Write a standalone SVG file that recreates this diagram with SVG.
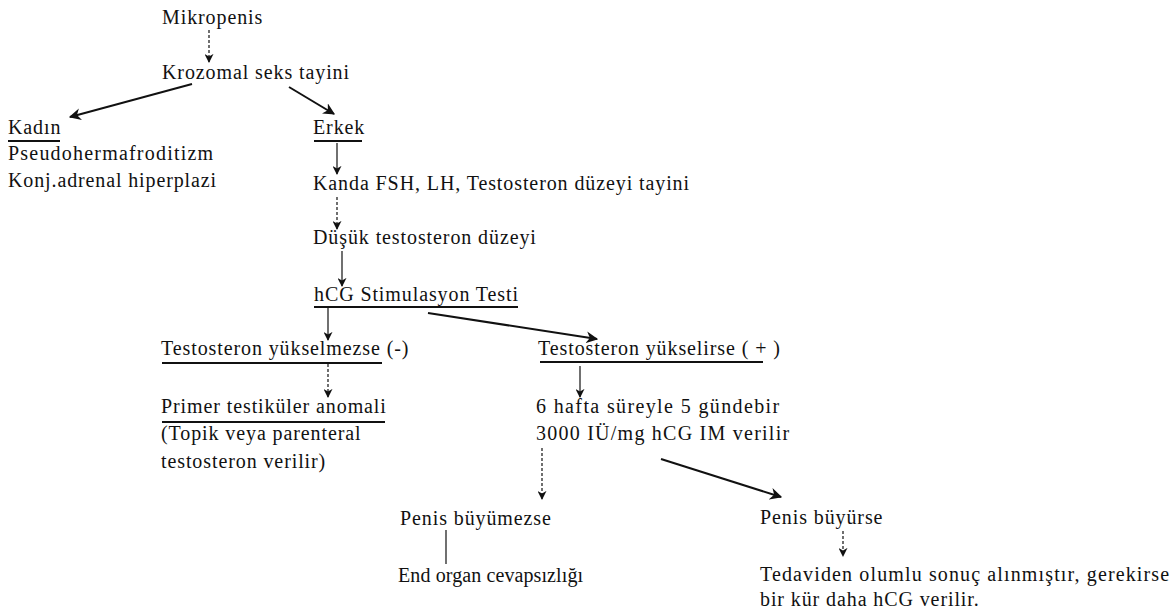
<svg xmlns="http://www.w3.org/2000/svg" width="1176" height="614" viewBox="0 0 1176 614">
<style>
text{font-family:"Liberation Serif","Times New Roman",serif;font-size:20px;fill:#111;letter-spacing:0.9px}
.c{stroke:#111;fill:none;stroke-width:1.2}
.d{stroke-dasharray:3,2}
.t{stroke-width:2}
.u{stroke:#111;stroke-width:1.8}
</style>
<defs>
<marker id="ah" viewBox="0 0 10 10" refX="9" refY="5" markerWidth="9" markerHeight="9" markerUnits="userSpaceOnUse" orient="auto">
<path d="M0,0 L10,5 L0,10 L3,5 z" fill="#111"/>
</marker>
<marker id="ah2" viewBox="0 0 10 10" refX="9" refY="5" markerWidth="12" markerHeight="12" markerUnits="userSpaceOnUse" orient="auto">
<path d="M0,0 L10,5 L0,10 L3,5 z" fill="#111"/>
</marker>
</defs>
<g id="connectors">
<line class="c d" x1="209" y1="30" x2="209" y2="62" marker-end="url(#ah)"/>
<line class="c t" x1="192" y1="84" x2="70" y2="117" marker-end="url(#ah2)"/>
<line class="c t" x1="289" y1="87" x2="334" y2="114" marker-end="url(#ah2)"/>
<line class="c" x1="337" y1="143" x2="337" y2="174" marker-end="url(#ah)"/>
<line class="c d" x1="337" y1="197" x2="337" y2="229" marker-end="url(#ah)"/>
<line class="c" x1="342" y1="251" x2="342" y2="286" marker-end="url(#ah)"/>
<line class="c" x1="328" y1="307" x2="328" y2="340" marker-end="url(#ah)"/>
<line class="c t" x1="428" y1="313" x2="597" y2="339" marker-end="url(#ah2)"/>
<line class="c d" x1="328" y1="364" x2="328" y2="397" marker-end="url(#ah)"/>
<line class="c" x1="580" y1="366" x2="580" y2="397" marker-end="url(#ah)"/>
<line class="c d" x1="542" y1="448" x2="542" y2="499" marker-end="url(#ah)"/>
<line class="c t" x1="661" y1="459" x2="781" y2="497" marker-end="url(#ah2)"/>
<line class="c" x1="446" y1="530" x2="446" y2="564"/>
<line class="c d" x1="843" y1="531" x2="843" y2="556" marker-end="url(#ah)"/>
<line class="u" x1="8" y1="141" x2="60" y2="141"/>
<line class="u" x1="314" y1="141" x2="362" y2="141"/>
<line class="u" x1="314" y1="307" x2="518" y2="307"/>
<line class="u" x1="162" y1="363" x2="382" y2="363"/>
<line class="u" x1="162" y1="422" x2="385" y2="422"/>
<line class="u" x1="540" y1="362" x2="763" y2="362"/>
</g>
<g id="n-mikropenis"><text x="162" y="24">Mikropenis</text></g>
<g id="n-krozomal"><text x="162" y="79">Krozomal seks tayini</text></g>
<g id="n-kadin"><text x="8" y="134">Kadın</text><text x="8" y="160" textLength="206" lengthAdjust="spacing">Pseudohermafroditizm</text><text x="8" y="187" textLength="209" lengthAdjust="spacing">Konj.adrenal hiperplazi</text></g>
<g id="n-erkek"><text x="313" y="134">Erkek</text></g>
<g id="n-kanda"><text x="313" y="190">Kanda FSH, LH, Testosteron düzeyi tayini</text></g>
<g id="n-dusuk"><text x="313" y="244">Düşük testosteron düzeyi</text></g>
<g id="n-hcg"><text x="314" y="301">hCG Stimulasyon Testi</text></g>
<g id="n-yukselmezse"><text x="161" y="355">Testosteron yükselmezse (-)</text></g>
<g id="n-primer"><text x="161" y="413">Primer testiküler anomali</text><text x="161" y="440">(Topik veya parenteral</text><text x="161" y="468">testosteron verilir)</text></g>
<g id="n-yukselirse"><text x="538" y="355">Testosteron yükselirse ( + )</text></g>
<g id="n-6hafta"><text x="536" y="413" textLength="244" lengthAdjust="spacing">6 hafta süreyle 5 gündebir</text><text x="536" y="440" textLength="254" lengthAdjust="spacing">3000 IÜ/mg hCG IM verilir</text></g>
<g id="n-buyumezse"><text x="400" y="525">Penis büyümezse</text></g>
<g id="n-end"><text x="398" y="582" textLength="186" lengthAdjust="spacing">End organ cevapsızlığı</text></g>
<g id="n-buyurse"><text x="760" y="524">Penis büyürse</text></g>
<g id="n-tedavi"><text x="760" y="581" textLength="410" lengthAdjust="spacing">Tedaviden olumlu sonuç alınmıştır, gerekirse</text><text x="760" y="606">bir kür daha hCG verilir.</text></g>
</svg>
